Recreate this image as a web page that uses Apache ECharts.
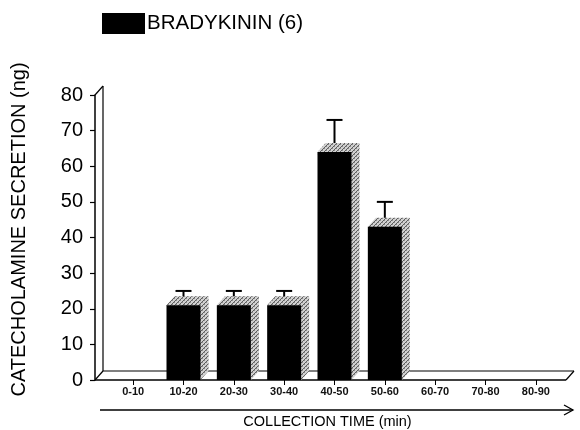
<!DOCTYPE html>
<html>
<head>
<meta charset="utf-8">
<script src="https://cdn.jsdelivr.net/npm/echarts@6/dist/echarts.min.js"></script>
<style>
  html, body { margin: 0; padding: 0; background: #fff; }
  #chart { width: 580px; height: 430px; }
</style>
</head>
<body>
<div id="chart"></div>
<script>
// Collection periods (min)
const categories = ['0-10', '10-20', '20-30', '30-40', '40-50', '50-60', '60-70', '70-80', '80-90'];
// Catecholamine secretion per period (ng); empty periods have no bar
const secretion = [null, 21, 21, 21, 64, 43, null, null, null];
// Standard error (ng) drawn above each bar
const sem = [null, 4, 4, 4, 9, 7, null, null, null];
const seriesName = 'BRADYKININ (6)';

const FONT = '"Liberation Sans", Arial, Helvetica, sans-serif';
const GRID = { left: 108, right: 19, top: 95, bottom: 50 };
const AXIS_OFFSET = 13;
const DEPTH = [8, -9];
const BAR_W = 34;

// stippled grey fill used for the bar shadows
function makeStipple() {
  const c = document.createElement('canvas');
  c.width = 4; c.height = 4;
  const g = c.getContext('2d');
  g.fillStyle = '#d0d0d0';
  g.fillRect(0, 0, 4, 4);
  g.fillStyle = '#5e5e5e';
  for (let i = 0; i < 4; i++) g.fillRect(3 - i, i, 1, 1);
  g.fillStyle = '#8e8e8e';
  g.fillRect(0, 0, 1, 1);
  g.fillRect(2, 2, 1, 1);
  return c;
}
const stipple = makeStipple();

const points = [];
const errors = [];
secretion.forEach((v, i) => {
  if (v == null) return;
  points.push([i, v]);
  errors.push([i, v, v + sem[i]]);
});

const chart = echarts.init(document.getElementById('chart'), null, { renderer: 'canvas' });

chart.setOption({
  animation: false,
  textStyle: { fontFamily: FONT, color: '#000' },
  legend: {
    left: 97, top: 8,
    itemWidth: 43, itemHeight: 21, itemGap: 10,
    icon: 'rect',
    data: [seriesName],
    textStyle: { fontSize: 20.5, color: '#000', fontFamily: FONT, padding: [0, 0, 0, -3] },
    selectedMode: false
  },
  grid: Object.assign({ outerBoundsMode: 'none', containLabel: false }, GRID),
  xAxis: {
    type: 'category',
    data: categories,
    boundaryGap: true,
    axisLine: { show: false },
    axisTick: { show: true, alignWithLabel: true, length: 5, lineStyle: { color: '#000', width: 1 } },
    axisLabel: { fontSize: 11, fontWeight: 'bold', color: '#111', margin: 6, fontFamily: FONT },
    name: 'COLLECTION TIME (min)',
    nameLocation: 'middle',
    nameGap: 34,
    nameTextStyle: { fontSize: 14.5, color: '#000', fontFamily: FONT, padding: [0, 14, 0, 0] },
    splitLine: { show: false }
  },
  yAxis: {
    type: 'value',
    min: 0, max: 80, interval: 10,
    offset: AXIS_OFFSET,
    axisLine: { show: true, lineStyle: { color: '#000', width: 1.5 } },
    axisTick: { show: true, length: 5, lineStyle: { color: '#000', width: 1.2 } },
    axisLabel: { fontSize: 20, color: '#000', margin: 12, fontFamily: FONT },
    splitLine: { show: false },
    name: 'CATECHOLAMINE SECRETION (ng)',
    nameLocation: 'middle',
    nameRotate: 90,
    nameGap: 66,
    nameTextStyle: { fontSize: 20, color: '#000', fontFamily: FONT, padding: [0, 0, 0, 16] }
  },
  series: [
    {
      name: seriesName,
      type: 'bar',
      data: secretion,
      barWidth: BAR_W,
      itemStyle: { color: '#000' },
      z: 4
    },
    {
      // offset shadow behind each bar
      type: 'custom',
      silent: true,
      z: 3,
      data: points,
      renderItem: function (params, api) {
        const top = api.coord([api.value(0), api.value(1)]);
        const base = api.coord([api.value(0), 0]);
        const x0 = top[0] - BAR_W / 2, x1 = top[0] + BAR_W / 2;
        const dx = DEPTH[0], dy = DEPTH[1];
        return {
          type: 'polygon',
          shape: {
            points: [
              [x0, top[1]], [x0 + dx, top[1] + dy], [x1 + dx, top[1] + dy],
              [x1 + dx, base[1] + dy], [x1, base[1]]
            ]
          },
          style: { fill: { image: stipple, repeat: 'repeat' } }
        };
      }
    },
    {
      // error bars (upper only)
      type: 'custom',
      silent: true,
      z: 2,
      data: errors,
      renderItem: function (params, api) {
        const a = api.coord([api.value(0), api.value(1)]);
        const b = api.coord([api.value(0), api.value(2)]);
        const half = 8;
        const st = { stroke: '#000', lineWidth: 2, fill: null };
        return {
          type: 'group',
          children: [
            { type: 'line', shape: { x1: a[0], y1: a[1], x2: b[0], y2: b[1] }, style: st },
            { type: 'line', shape: { x1: b[0] - half, y1: b[1], x2: b[0] + half, y2: b[1] }, style: st }
          ]
        };
      }
    }
  ]
});

// 3-D frame: back wall, floor and the time arrow, placed from the axes
(function drawFrame() {
  const y0 = chart.convertToPixel({ yAxisIndex: 0 }, 0);
  const yMax = chart.convertToPixel({ yAxisIndex: 0 }, 80);
  const ax = GRID.left - AXIS_OFFSET;
  const xEnd = 580 - GRID.right + 5;
  const dx = DEPTH[0], dy = DEPTH[1];
  const ls = { stroke: '#000', lineWidth: 1.2, fill: null };
  const line = (x1, y1, x2, y2, w) => ({
    type: 'line', silent: true, z: 1,
    shape: { x1, y1, x2, y2 },
    style: Object.assign({}, ls, w ? { lineWidth: w } : {})
  });
  const arrowY = y0 + 30;
  chart.setOption({
    graphic: [
      line(ax, yMax, ax + dx, yMax + dy),
      line(ax + dx, yMax + dy, ax + dx, y0 + dy),
      line(ax, y0, ax + dx, y0 + dy),
      line(ax + dx, y0 + dy, xEnd + dx, y0 + dy),
      line(ax, y0, xEnd, y0, 1.5),
      line(xEnd, y0, xEnd + dx, y0 + dy),
      line(ax + 5, arrowY, xEnd + 7, arrowY, 1.3),
      {
        type: 'polyline', silent: true,
        shape: { points: [[xEnd - 2, arrowY - 5], [xEnd + 7, arrowY], [xEnd - 2, arrowY + 5]] },
        style: { stroke: '#000', lineWidth: 1.3, fill: null }
      }
    ]
  });
})();
</script>
</body>
</html>
